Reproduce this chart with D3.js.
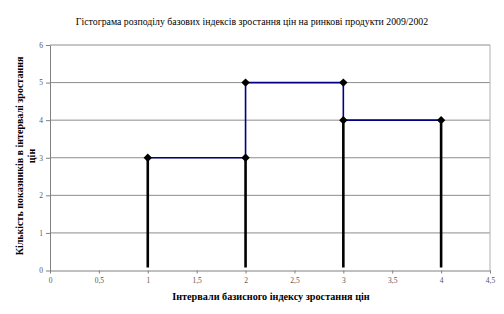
<!DOCTYPE html>
<html><head><meta charset="utf-8">
<script src="https://cdn.jsdelivr.net/npm/d3@7"></script>
<style>body{margin:0;background:#fff}svg{display:block}</style>
</head><body>
<svg id="c" width="504" height="314"></svg>
<script>
const title = "Гістограма розподілу базових індексів зростання цін на ринкові продукти 2009/2002";
const xLabel = "Інтервали базисного індексу зростання цін";
const yLabel1 = "Кількість показників в інтервалі зростання";
const yLabel2 = "цін";
const xTicks = [0, 0.5, 1, 1.5, 2, 2.5, 3, 3.5, 4, 4.5];
const yTicks = [0, 1, 2, 3, 4, 5, 6];
// step line (blue)
const stepX = [1, 2, 2, 3, 3, 4];
const stepY = [3, 3, 5, 5, 4, 4];
// vertical drop lines (black)
const dropX = [1, 2, 3, 4];
const dropY = [3, 3, 4, 4];

const svg = d3.select("#c");
const x = d3.scaleLinear().domain([0, 4.5]).range([50, 490]);
const y = d3.scaleLinear().domain([0, 6]).range([270.5, 45]);
const fmt = d => String(d).replace(".", ",");

// gridlines
svg.append("g").selectAll("line").data(yTicks.filter(d => d > 0)).join("line")
  .attr("x1", x(0)).attr("x2", x(4.5)).attr("y1", d => y(d)).attr("y2", d => y(d))
  .attr("stroke", "#8c8c8c").attr("stroke-width", 1);
// right border
svg.append("line").attr("x1", x(4.5)).attr("x2", x(4.5)).attr("y1", y(6)).attr("y2", y(0))
  .attr("stroke", "#b0b0b0");

const xa = svg.append("g").attr("transform", `translate(0,${y(0)})`)
  .call(d3.axisBottom(x).tickValues(xTicks).tickFormat(fmt).tickSize(3).tickSizeOuter(0));
const ya = svg.append("g").attr("transform", `translate(${x(0)},0)`)
  .call(d3.axisLeft(y).tickValues(yTicks).tickFormat(fmt).tickSize(4).tickSizeOuter(0));
[xa, ya].forEach(a => {
  a.selectAll("path,line").attr("stroke", "#808080");
  a.selectAll("text").attr("font-family", "Liberation Serif").attr("font-size", 7.5).attr("fill", "#555");
});
xa.selectAll("text").attr("dy", "0.9em");

// drop lines
svg.append("g").selectAll("line").data(dropX).join("line")
  .attr("x1", d => x(d)).attr("x2", d => x(d))
  .attr("y1", y(0) - 3).attr("y2", (d, i) => y(dropY[i]))
  .attr("stroke", "#000").attr("stroke-width", 2.6);

// step line
const pts = stepX.map((d, i) => [x(d), y(stepY[i])]);
svg.append("path").attr("d", d3.line()(pts)).attr("fill", "none")
  .attr("stroke", "#000080").attr("stroke-width", 1.6);

// markers
svg.append("g").selectAll("path").data(pts).join("path")
  .attr("transform", d => `translate(${d[0]},${d[1]})`)
  .attr("d", d3.symbol().type(d3.symbolDiamond2).size(45))
  .attr("fill", "#000");

// title and labels
svg.append("text").attr("x", 252).attr("y", 25).attr("text-anchor", "middle")
  .attr("font-family", "Liberation Serif").attr("font-size", 9.8).text(title);
svg.append("text").attr("x", 271).attr("y", 300).attr("text-anchor", "middle")
  .attr("font-family", "Liberation Serif").attr("font-size", 10.2).attr("font-weight", "bold").text(xLabel);
const yl = svg.append("text").attr("transform", "translate(0,156) rotate(-90)")
  .attr("text-anchor", "middle").attr("font-family", "Liberation Serif")
  .attr("font-size", 10).attr("font-weight", "bold");
yl.append("tspan").attr("x", 0).attr("y", 23).text(yLabel1);
yl.append("tspan").attr("x", 0).attr("y", 35).text(yLabel2);
</script>
</body></html>
